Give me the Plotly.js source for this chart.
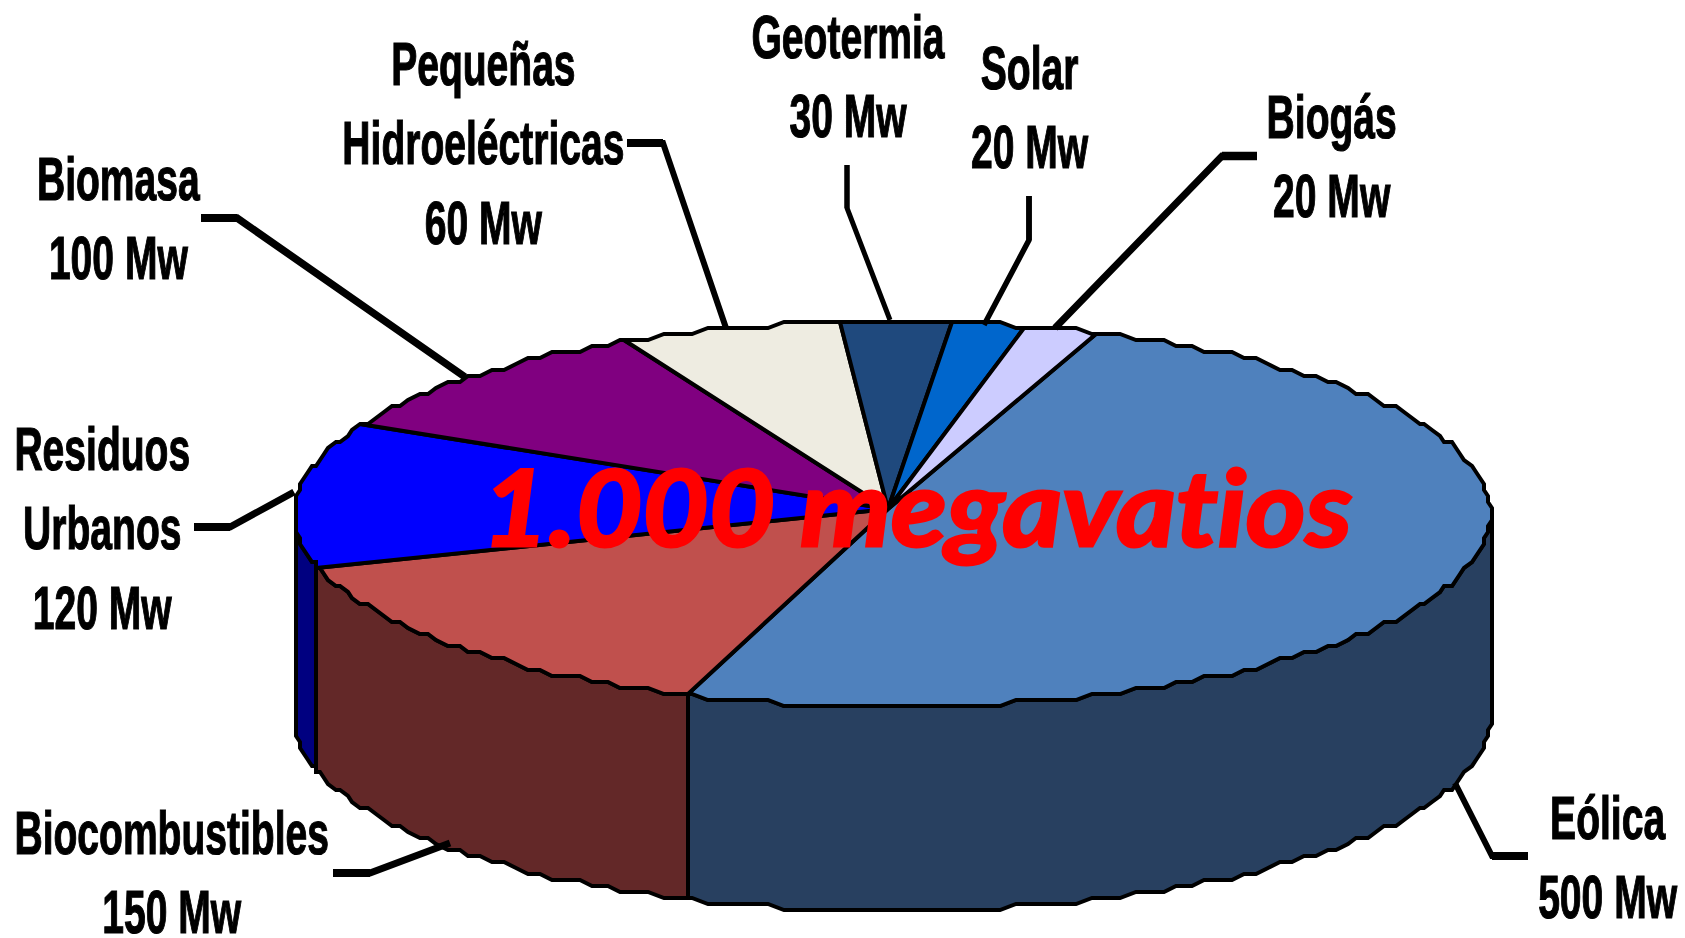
<!DOCTYPE html>
<html>
<head>
<meta charset="utf-8">
<script src="https://cdn.plot.ly/plotly-3.0.1.min.js"></script>
<style>html,body{margin:0;padding:0;background:#fff;overflow:hidden}#chart{width:1685px;height:938px}</style>
</head>
<body>
<div id="chart"></div>
<script>
// Data
const categories = ['Eólica','Biocombustibles','Residuos<br>Urbanos','Biomasa','Pequeñas<br>Hidroeléctricas','Geotermia','Solar','Biogás'];
const megawatts = [500,150,120,100,60,30,20,20];
const centerLabel = '1.000 megavatios';

// Styles
const topColors = ['#4F81BD','#C0504D','#0000FF','#800080','#EEECE1','#1F497D','#0066CC','#CCCCFF'];
const sideColors = ['#284060','#632828','#000080','#400040','#77766F','#10253F','#003366','#666680'];

// Layout of the drawing, in plot units (the axes map 1:1 to pixels)
const geom = {cx:892.5, cy:514, rx:598, ry:193, depth:204, apexX:888, apexY:509, startDeg:20, stepDeg:1.5, gridX:4, gridY:6, offY:4};
const labelPos = [[1608,857],[171,872],[102,528],[118,218],[483,143],[848,76],[1030,107],[1331,156]];
const leaders = [
  {w:6, sw:8, p:[[1528,856],[1492,856],[1455,783]]},
  {w:7, sw:8, p:[[333,873],[370,873],[450,843]]},
  {w:7, sw:8, p:[[194,527],[230,527],[294,492]]},
  {w:7.5, sw:8, p:[[201,218],[237,218],[465,377]]},
  {w:6, sw:8, p:[[627,143],[663,143],[726,328]]},
  {w:5, sw:5, p:[[847,165],[847,208],[890,320]]},
  {w:5.5, sw:5.5, p:[[1029,196],[1029,240],[984,325]]},
  {w:7, sw:8.5, p:[[1257,156],[1222,156],[1055,328]]}
];

const total = megawatts.reduce((a,b)=>a+b,0);
function rimPoint(deg, drop){
  const r = deg*Math.PI/180;
  const x = geom.cx + geom.rx*Math.sin(r);
  const y = geom.cy - geom.ry*Math.cos(r);
  return [Math.round(x/geom.gridX)*geom.gridX, Math.round((y-geom.offY)/geom.gridY)*geom.gridY + geom.offY + drop];
}
function arc(a0,a1,drop){
  const angles=[a0];
  for(let d=Math.ceil(a0/geom.stepDeg+1e-6)*geom.stepDeg; d<a1-1e-6; d+=geom.stepDeg) angles.push(d);
  angles.push(a1);
  return angles.map(d=>rimPoint(d,drop));
}
const sideTraces=[], topTraces=[];
let angle = geom.startDeg;
megawatts.forEach((v,i)=>{
  const a0=angle, a1=angle+v/total*360; angle=a1;
  const name=categories[i].replace('<br>',' ');
  const s0=Math.max(a0,90), s1=Math.min(a1,270);
  if(s0<s1){
    const pts=arc(s0,s1,0).concat(arc(s0,s1,geom.depth).reverse());
    pts.push(pts[0]);
    sideTraces.push({type:'scatter',mode:'lines',x:pts.map(p=>p[0]),y:pts.map(p=>p[1]),fill:'toself',fillcolor:sideColors[i],line:{color:'#000',width:4,simplify:false},name:name,hoverinfo:'skip'});
  }
  const apex=[geom.apexX,geom.apexY];
  const pts=[apex].concat(arc(a0,a1,0),[apex]);
  topTraces.push({type:'scatter',mode:'lines',x:pts.map(p=>p[0]),y:pts.map(p=>p[1]),fill:'toself',fillcolor:topColors[i],line:{color:'#000',width:4,simplify:false},name:name,text:name+': '+v+' Mw',hoverinfo:'text',hoveron:'fills'});
});

const shapes = [];
leaders.forEach(l=>{
  shapes.push({type:'path', xref:'x', yref:'y', path:'M'+l.p.map(q=>q[0]+','+q[1]).join(' L'), line:{color:'#000',width:l.w}});
  shapes.push({type:'path', xref:'x', yref:'y', path:'M'+l.p.slice(0,2).map(q=>q[0]+','+q[1]).join(' L'), line:{color:'#000',width:l.sw}});
});

const annotations = categories.map((c,i)=>({
  x:labelPos[i][0], y:labelPos[i][1], xref:'x', yref:'y',
  text:c+'<br>'+megawatts[i]+' Mw', showarrow:false, xanchor:'center', yanchor:'middle', align:'center',
  font:{family:'"Liberation Sans", Arial, sans-serif', size:61, color:'#000', weight:700}
}));
annotations.push({
  x:917, y:505, xref:'x', yref:'y', text:centerLabel, showarrow:false, xanchor:'center', yanchor:'middle',
  font:{family:'Lato, sans-serif', size:106, color:'#FF0000', weight:700, style:'italic'}
});

const layout = {
  width:1685, height:938, margin:{l:0,r:0,t:0,b:0},
  paper_bgcolor:'#fff', plot_bgcolor:'#fff', showlegend:false,
  xaxis:{range:[0,1685],visible:false,fixedrange:true},
  yaxis:{range:[938,0],visible:false,fixedrange:true},
  shapes:shapes, annotations:annotations, hovermode:'closest'
};

Plotly.newPlot('chart', sideTraces.concat(topTraces), layout, {displayModeBar:false, responsive:false}).then(()=>{
  // The source labels are a horizontally condensed, heavy bold face
  document.querySelectorAll('.annotation-text').forEach(t=>{
    const isCenter=t.textContent.indexOf('megavatios')>=0;
    const k=isCenter?1.08:0.64;
    const b=t.getBBox(); const c=b.x+b.width/2;
    t.setAttribute('transform','translate('+c+',0) scale('+k+',1) translate('+(-c)+',0)');
    t.style.fontVariantLigatures='none';
    t.style.stroke=isCenter?'#FF0000':'#000';
    t.style.strokeWidth=isCenter?'3px':'1.2px';
  });
});
</script>
</body>
</html>
